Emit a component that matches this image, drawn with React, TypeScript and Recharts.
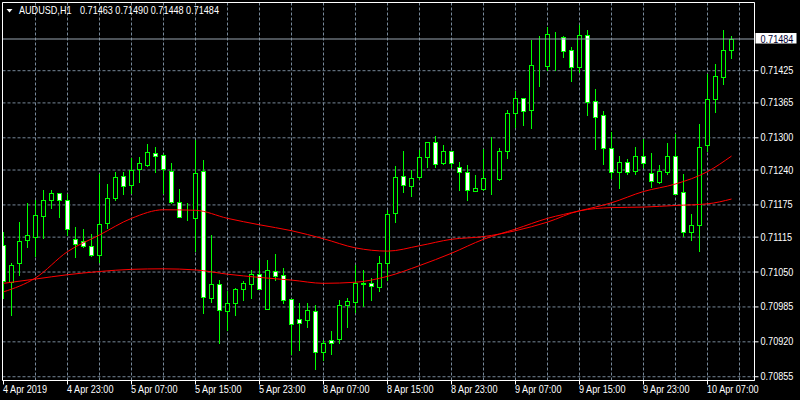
import { ComposedChart, Bar, Line, XAxis, YAxis, CartesianGrid, ReferenceLine } from 'recharts'

// AUDUSD H1 candles (one per hour)
const opens = [
  0.71100, 0.71031, 0.71066, 0.71109, 0.71116, 0.71154, 0.71184, 0.71197, 0.71184, 0.71111,
  0.71107, 0.71098, 0.71081, 0.71141, 0.71188, 0.71229, 0.71212, 0.71241, 0.71250, 0.71271,
  0.71268, 0.71239, 0.71180, 0.71150, 0.71150, 0.71238, 0.71002, 0.71027, 0.70978, 0.70992,
  0.71019, 0.71028, 0.71047, 0.70981, 0.71052, 0.71044, 0.70999, 0.70962, 0.70960, 0.70977,
  0.70901, 0.70923, 0.70925, 0.70988, 0.70995, 0.71028, 0.71029, 0.71022, 0.71066, 0.71160,
  0.71229, 0.71210, 0.71227, 0.71264, 0.71292, 0.71253, 0.71275, 0.71246, 0.71236, 0.71201,
  0.71205, 0.71225, 0.71224, 0.71276, 0.71346, 0.71374, 0.71351, 0.71434, 0.71433, 0.71490,
  0.71488, 0.71463, 0.71431, 0.71491, 0.71368, 0.71342, 0.71281, 0.71237, 0.71255, 0.71239,
  0.71266, 0.71235, 0.71217, 0.71237, 0.71266, 0.71199, 0.71124, 0.71137, 0.71286, 0.71373,
  0.71413, 0.71463,
]
const highs = [
  0.71125, 0.71066, 0.71144, 0.71178, 0.71184, 0.71203, 0.71203, 0.71198, 0.71195, 0.71134,
  0.71130, 0.71120, 0.71233, 0.71214, 0.71237, 0.71237, 0.71262, 0.71264, 0.71289, 0.71283,
  0.71270, 0.71253, 0.71204, 0.71178, 0.71296, 0.71259, 0.71119, 0.71035, 0.71014, 0.71020,
  0.71034, 0.71054, 0.71073, 0.71073, 0.71084, 0.71057, 0.70999, 0.70992, 0.70992, 0.70988,
  0.70924, 0.70940, 0.70998, 0.71002, 0.71063, 0.71054, 0.71039, 0.71080, 0.71165, 0.71248,
  0.71276, 0.71240, 0.71278, 0.71292, 0.71304, 0.71287, 0.71275, 0.71255, 0.71250, 0.71231,
  0.71279, 0.71301, 0.71281, 0.71352, 0.71387, 0.71374, 0.71482, 0.71489, 0.71507, 0.71497,
  0.71490, 0.71469, 0.71510, 0.71501, 0.71391, 0.71350, 0.71310, 0.71266, 0.71261, 0.71283,
  0.71298, 0.71272, 0.71250, 0.71291, 0.71307, 0.71233, 0.71158, 0.71326, 0.71419, 0.71438,
  0.71500, 0.71490,
]
const lows = [
  0.71002, 0.70970, 0.71045, 0.71096, 0.71080, 0.71113, 0.71169, 0.71152, 0.71119, 0.71078,
  0.71096, 0.71080, 0.71068, 0.71132, 0.71184, 0.71196, 0.71198, 0.71217, 0.71248, 0.71236,
  0.71197, 0.71178, 0.71152, 0.71146, 0.71090, 0.70974, 0.70995, 0.70917, 0.70942, 0.70970,
  0.70997, 0.71002, 0.71019, 0.70981, 0.71035, 0.70993, 0.70898, 0.70904, 0.70948, 0.70870,
  0.70886, 0.70898, 0.70917, 0.70947, 0.70976, 0.70987, 0.70998, 0.71014, 0.71035, 0.71144,
  0.71200, 0.71191, 0.71223, 0.71246, 0.71246, 0.71251, 0.71246, 0.71203, 0.71184, 0.71201,
  0.71202, 0.71196, 0.71222, 0.71262, 0.71321, 0.71324, 0.71318, 0.71397, 0.71427, 0.71427,
  0.71450, 0.71406, 0.71422, 0.71343, 0.71279, 0.71251, 0.71225, 0.71207, 0.71233, 0.71233,
  0.71246, 0.71209, 0.71216, 0.71233, 0.71196, 0.71118, 0.71110, 0.71089, 0.71276, 0.71348,
  0.71400, 0.71448,
]
const closes = [
  0.71034, 0.71064, 0.71108, 0.71119, 0.71156, 0.71184, 0.71197, 0.71184, 0.71130, 0.71102,
  0.71098, 0.71082, 0.71139, 0.71188, 0.71227, 0.71210, 0.71240, 0.71253, 0.71273, 0.71266,
  0.71242, 0.71180, 0.71152, 0.71151, 0.71234, 0.71004, 0.71027, 0.70979, 0.70992, 0.71018,
  0.71029, 0.71047, 0.71019, 0.71053, 0.71043, 0.70997, 0.70953, 0.70956, 0.70979, 0.70901,
  0.70917, 0.70917, 0.70988, 0.70996, 0.71029, 0.71029, 0.71024, 0.71066, 0.71158, 0.71227,
  0.71212, 0.71225, 0.71264, 0.71292, 0.71251, 0.71275, 0.71253, 0.71236, 0.71202, 0.71206,
  0.71225, 0.71226, 0.71276, 0.71346, 0.71374, 0.71349, 0.71435, 0.71434, 0.71493, 0.71490,
  0.71461, 0.71431, 0.71491, 0.71366, 0.71338, 0.71281, 0.71237, 0.71255, 0.71237, 0.71266,
  0.71254, 0.71219, 0.71239, 0.71266, 0.71196, 0.71124, 0.71138, 0.71283, 0.71373, 0.71415,
  0.71464, 0.71484,
]

// moving averages, sampled every 4th bar (plus the last one)
const maIdx = [0, 4, 8, 12, 16, 20, 24, 28, 32, 36, 40, 44, 48, 52, 56, 60, 64, 68, 72, 76, 80, 84, 88, 91]
const maFast = [
  0.71013, 0.71039, 0.71088, 0.71119, 0.71150, 0.71166, 0.71165, 0.71150, 0.71138, 0.71127, 0.71112, 0.71095,
  0.71089, 0.71099, 0.71111, 0.71116, 0.71127, 0.71143, 0.71164, 0.71170, 0.71171, 0.71174, 0.71177, 0.71186,
]
const maSlow = [
  0.71029, 0.71037, 0.71045, 0.71051, 0.71055, 0.71056, 0.71054, 0.71046, 0.71040, 0.71035, 0.71029, 0.71031,
  0.71042, 0.71062, 0.71085, 0.71111, 0.71130, 0.71150, 0.71164, 0.71179, 0.71200, 0.71214, 0.71237, 0.71266,
]

const xTickIdx = [0, 8, 16, 24, 32, 40, 48, 56, 64, 72, 80, 88]
const xTickLabels = [
  '4 Apr 2019', '4 Apr 23:00', '5 Apr 07:00', '5 Apr 15:00', '5 Apr 23:00', '8 Apr 07:00',
  '8 Apr 15:00', '8 Apr 23:00', '9 Apr 07:00', '9 Apr 15:00', '9 Apr 23:00', '10 Apr 07:00',
]
const gridIdx = [4, 8, 12, 16, 20, 24, 28, 32, 36, 40, 44, 48, 52, 56, 60, 64, 68, 72, 76, 80, 84, 88, 92]
const yTicks = [0.70855, 0.70920, 0.70985, 0.71050, 0.71115, 0.71175, 0.71240, 0.71300, 0.71365, 0.71425]

const symbol = 'AUDUSD,H1'
const lastBar = '0.71463 0.71490 0.71448 0.71484'
const lastPrice = 0.71484

const xDomain = [-0.125, 93.875]
const yDomain = [0.70848, 0.71552]

const FONT = "'Liberation Sans', Arial, sans-serif"
const SQUEEZE = 0.91
const GRID = '#778899'
const GREEN = '#00FF00'

const rows = opens.map((o, i) => {
  const k = maIdx.indexOf(i)
  return {
    i,
    o,
    h: highs[i],
    l: lows[i],
    c: closes[i],
    fast: k >= 0 ? maFast[k] : null,
    slow: k >= 0 ? maSlow[k] : null,
  }
})

// terminal-style narrow text
function Label({ x, y, fill = '#FFFFFF', children }: any) {
  return (
    <g transform={`translate(${x},${y}) scale(${SQUEEZE},1)`}>
      <text x={0} y={0} fill={fill} fontSize={10} fontFamily={FONT} textAnchor="start">
        {children}
      </text>
    </g>
  )
}

function Candle(props: any) {
  const { x, y, width, height, payload } = props
  if (!payload || height == null) return null
  const { o, h, l, c } = payload
  const top = Math.min(y, y + height)
  const bottom = Math.max(y, y + height)
  const span = h - l
  const toY = (p: number) => (span > 0 ? top + ((h - p) / span) * (bottom - top) : top)
  const cx = Math.floor(x + width / 2) + 0.5
  const bTop = Math.round(toY(Math.max(o, c))) + 0.5
  const bBot = Math.round(toY(Math.min(o, c))) + 0.5
  const down = c < o
  return (
    <g>
      <line x1={cx} x2={cx} y1={Math.round(top)} y2={Math.round(bottom) + 1} stroke={GREEN} strokeWidth={1} />
      <rect x={cx - 2} y={bTop} width={4} height={Math.max(bBot - bTop, 0)} fill={down ? '#FFFFFF' : '#000000'} stroke={GREEN} strokeWidth={1} />
    </g>
  )
}

function XTick(props: any) {
  const { x, y, payload } = props
  const k = xTickIdx.indexOf(payload.value)
  return <Label x={x - 0.5} y={y + 6}>{k >= 0 ? xTickLabels[k] : ''}</Label>
}

function YTick(props: any) {
  const { x, y, payload } = props
  return <Label x={x} y={y + 3.5}>{Number(payload.value).toFixed(5)}</Label>
}

function PriceTag(props: any) {
  const { viewBox } = props
  if (!viewBox) return null
  const x = viewBox.x + viewBox.width + 1
  const y = viewBox.y
  return (
    <g>
      <rect x={x} y={y - 6} width={41} height={10.5} fill="#FFFFFF" />
      <Label x={x + 5} y={y + 3.5} fill="#000033">{lastPrice.toFixed(5)}</Label>
    </g>
  )
}

export default function App() {
  return (
    <div style={{ position: 'fixed', top: 0, left: 0, width: 800, height: 400, background: '#000000' }}>
      <ComposedChart width={800} height={400} data={rows} margin={{ top: 2.5, right: 0, bottom: 0, left: 2.5 }}>
        <XAxis xAxisId="grid" dataKey="i" type="number" domain={xDomain} ticks={gridIdx} allowDataOverflow hide />
        <CartesianGrid xAxisId="grid" stroke={GRID} strokeDasharray="3 2" />
        <XAxis
          dataKey="i"
          type="number"
          domain={xDomain}
          ticks={xTickIdx}
          interval={0}
          allowDataOverflow
          height={19.5}
          tickSize={4}
          tickMargin={2}
          axisLine={{ stroke: '#FFFFFF' }}
          tickLine={{ stroke: '#FFFFFF' }}
          tick={<XTick />}
        />
        <YAxis
          orientation="right"
          type="number"
          domain={yDomain}
          ticks={yTicks}
          interval={0}
          allowDataOverflow
          width={45.5}
          tickSize={4}
          tickMargin={2}
          axisLine={{ stroke: '#FFFFFF' }}
          tickLine={{ stroke: '#FFFFFF' }}
          tick={<YTick />}
        />
        <Bar dataKey={(d: any) => [d.l, d.h]} barSize={5} shape={<Candle />} isAnimationActive={false} />
        <Line dataKey="slow" type="monotone" stroke="#FF0000" strokeWidth={1} dot={false} connectNulls activeDot={false} isAnimationActive={false} />
        <Line dataKey="fast" type="monotone" stroke="#FF0000" strokeWidth={1} dot={false} connectNulls activeDot={false} isAnimationActive={false} />
        <ReferenceLine y={lastPrice} stroke="#98A4B0" strokeWidth={1} label={<PriceTag />} />
        <ReferenceLine x={xDomain[0]} stroke="#FFFFFF" strokeWidth={1} ifOverflow="visible" />
        <ReferenceLine y={yDomain[1]} stroke="#FFFFFF" strokeWidth={1} ifOverflow="visible" />
      </ComposedChart>
      <svg width={800} height={24} style={{ position: 'absolute', top: 0, left: 0, pointerEvents: 'none' }}>
        <polygon points="6.5,9 12.5,9 9.5,12.5" fill="#FFFFFF" />
        <Label x={19} y={14}>{symbol}</Label>
        <Label x={80} y={14}>{lastBar}</Label>
      </svg>
    </div>
  )
}
